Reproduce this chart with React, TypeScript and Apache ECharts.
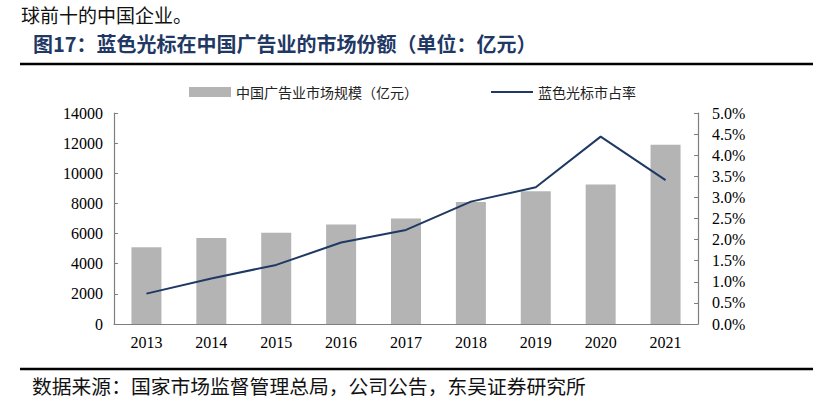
import React, { useEffect, useRef } from "react";
import * as echarts from "echarts";

const years = ["2013", "2014", "2015", "2016", "2017", "2018", "2019", "2020", "2021"];
const marketSize = [5100, 5700, 6050, 6600, 7000, 8100, 8800, 9250, 11900];
const shareRate = [0.72, 1.08, 1.4, 1.93, 2.23, 2.9, 3.24, 4.44, 3.41];
const barName = "中国广告业市场规模（亿元）";
const lineName = "蓝色光标市占率";
const headText = "球前十的中国企业。";
const titleText = "图17：蓝色光标在中国广告业的市场份额（单位：亿元）";
const sourceText = "数据来源：国家市场监督管理总局，公司公告，东吴证券研究所";

const CJK = '"Noto Sans CJK SC", sans-serif';
const SERIF = '"Liberation Serif", "DejaVu Serif", serif';

export default function App() {
  const ref = useRef<HTMLDivElement>(null);
  useEffect(() => {
    document.body.style.margin = "0";
    const chart = echarts.init(ref.current!, null, { renderer: "svg" });
    const axisColor = "#7f7f7f";
    chart.setOption({
      animation: false,
      backgroundColor: "#ffffff",
      graphic: [
        { type: "text", left: 21, top: 5, style: { text: headText, font: `19px ${CJK}`, fill: "#111" } },
        { type: "text", left: 33, top: 33, style: { text: titleText, font: `bold 20px ${CJK}`, fill: "#1f3864" } },
        { type: "line", shape: { x1: 20, y1: 64, x2: 813, y2: 64 }, style: { stroke: "#000", lineWidth: 2.5 } },
        { type: "line", shape: { x1: 20, y1: 369, x2: 813, y2: 369 }, style: { stroke: "#000", lineWidth: 2.5 } },
        { type: "text", left: 32, top: 376, style: { text: sourceText, font: `19.8px ${CJK}`, fill: "#111" } },
      ],
      legend: {
        left: 184,
        top: 80,
        itemWidth: 42,
        itemHeight: 10,
        itemGap: 72,
        textStyle: { fontFamily: CJK, fontSize: 14, color: "#222" },
        data: [
          { name: barName, icon: "rect" },
          { name: lineName, itemStyle: { opacity: 0, borderWidth: 0 } },
        ],
      },
      grid: { left: 114, right: 136, top: 113, bottom: 75, containLabel: false },
      xAxis: {
        type: "category",
        data: years,
        axisLine: { lineStyle: { color: axisColor, width: 1.2 } },
        axisTick: { inside: true, length: 4, lineStyle: { color: axisColor } },
        axisLabel: { margin: 10, fontFamily: SERIF, fontSize: 16, color: "#000" },
      },
      yAxis: [
        {
          type: "value",
          min: 0,
          max: 14000,
          interval: 2000,
          splitLine: { show: false },
          axisLine: { show: true, lineStyle: { color: axisColor, width: 1.2 } },
          axisTick: { show: true, inside: true, length: 4, lineStyle: { color: axisColor } },
          axisLabel: {
            margin: 11,
            fontFamily: SERIF,
            fontSize: 16,
            color: "#000",
            formatter: (v: number) => String(v),
          },
        },
        {
          type: "value",
          min: 0,
          max: 5,
          interval: 0.5,
          position: "right",
          splitLine: { show: false },
          axisLine: { show: true, lineStyle: { color: axisColor, width: 1.2 } },
          axisTick: { show: true, inside: true, length: 4, lineStyle: { color: axisColor } },
          axisLabel: {
            margin: 14,
            fontFamily: SERIF,
            fontSize: 16,
            color: "#000",
            formatter: (v: number) => v.toFixed(1) + "%",
          },
        },
      ],
      series: [
        {
          name: barName,
          type: "bar",
          data: marketSize,
          barWidth: 30,
          itemStyle: { color: "#b4b4b4" },
        },
        {
          name: lineName,
          type: "line",
          yAxisIndex: 1,
          data: shareRate,
          symbol: "none",
          lineStyle: { color: "#1f3864", width: 2 },
          itemStyle: { color: "#1f3864" },
        },
      ],
    });
    return () => chart.dispose();
  }, []);
  return <div ref={ref} style={{ width: 834, height: 399 }} />;
}
